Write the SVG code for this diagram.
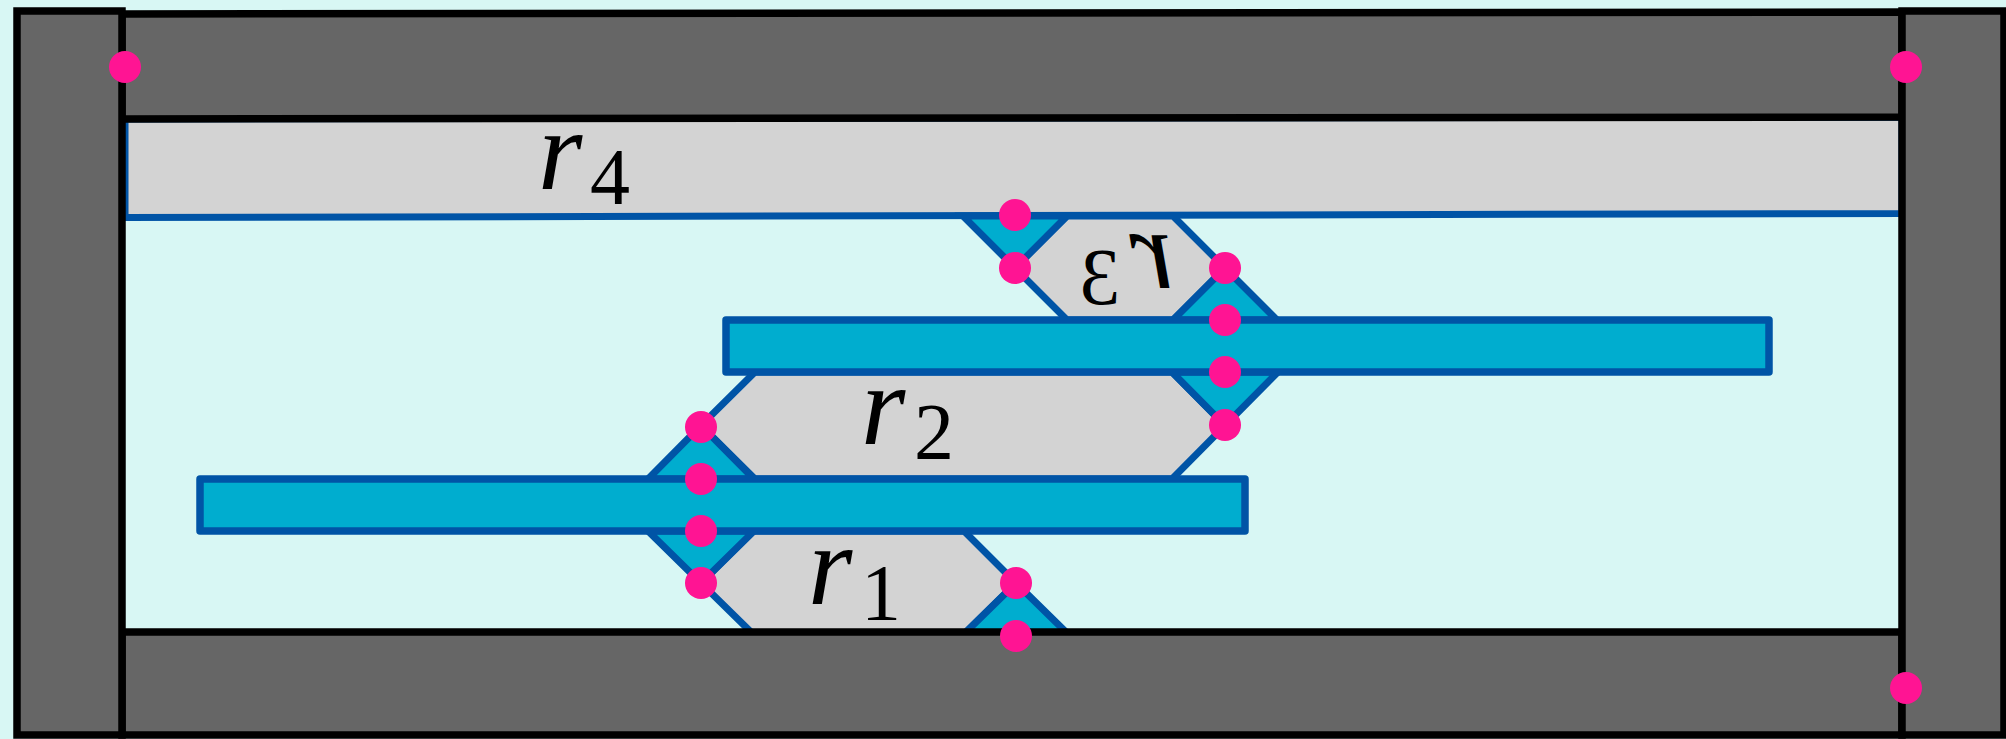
<svg xmlns="http://www.w3.org/2000/svg" width="2006" height="739" viewBox="0 0 2006 739">
<style>
.frame{fill:#666666;stroke:#000000;stroke-width:7.5;stroke-linejoin:miter}
.reg{fill:#D3D3D3;stroke:#0054A6;stroke-width:7;stroke-linejoin:miter}
.tri{fill:#00ADCF;stroke:#0054A6;stroke-width:7;stroke-linejoin:miter}
.bar{fill:#00ADCF;stroke:#0054A6;stroke-width:7.5;stroke-linejoin:round}
.dot{fill:#FF1493}
.lbl{font-family:"Liberation Serif","DejaVu Serif",serif;font-style:italic;font-size:114px;fill:#000}
.sub{font-family:"Liberation Serif","DejaVu Serif",serif;font-style:normal;font-size:80px;fill:#000}
</style>
<rect width="2006" height="739" fill="#D8F7F4"/>
<g id="region-r4"><polygon class="reg" points="125,119 1902,117 1902,213.5 125,217.5"/></g>
<g id="region-r3">
<polygon class="reg" points="1067,216 1173,216 1225,268 1173,320 1067,320 1015,268"/>
<polygon class="tri" points="963,216 1067,216 1015,268"/>
<polygon class="tri" points="1173,320 1277,320 1225,268"/>
</g>
<g id="region-r2">
<polygon class="reg" points="755,372 1172,372 1225,425.5 1172,479 755,479 701,425.5"/>
<polygon class="tri" points="1172,372 1278,372 1225,425.5"/>
<polygon class="tri" points="648,479 754,479 701,425.5"/>
</g>
<g id="region-r1">
<polygon class="reg" points="753,531 964,531 1016,583 964,634 753,634 701,583"/>
<polygon class="tri" points="648,531 754,531 701,583"/>
<polygon class="tri" points="964,634 1068,634 1016,583"/>
</g>
<g id="bar-upper"><rect class="bar" x="726" y="320" width="1043" height="52"/></g>
<g id="bar-lower"><rect class="bar" x="200" y="479" width="1045" height="52"/></g>
<g id="frame">
<polygon class="frame" points="122,14 1902,12 1902,117 122,119"/>
<rect class="frame" x="122" y="632" width="1780" height="103"/>
<rect class="frame" x="17" y="11" width="105" height="724"/>
<rect class="frame" x="1902" y="11" width="102" height="724"/>
</g>
<g id="connectors">
<circle class="dot" cx="125" cy="67" r="16"/>
<circle class="dot" cx="1906" cy="67" r="16"/>
<circle class="dot" cx="1906" cy="688" r="16"/>
<circle class="dot" cx="1015" cy="215" r="16"/>
<circle class="dot" cx="1015" cy="268" r="16"/>
<circle class="dot" cx="1225" cy="268" r="16"/>
<circle class="dot" cx="1225" cy="320" r="16"/>
<circle class="dot" cx="1225" cy="372" r="16"/>
<circle class="dot" cx="1225" cy="425" r="16"/>
<circle class="dot" cx="701" cy="427" r="16"/>
<circle class="dot" cx="701" cy="479" r="16"/>
<circle class="dot" cx="701" cy="531" r="16"/>
<circle class="dot" cx="701" cy="583" r="16"/>
<circle class="dot" cx="1016" cy="583" r="16"/>
<circle class="dot" cx="1016" cy="636" r="16"/>
</g>
<g id="labels">
<text class="lbl" x="538" y="189">r<tspan class="sub" x="590" y="204">4</tspan></text>
<text class="lbl" x="861" y="444">r<tspan class="sub" x="914" y="459">2</tspan></text>
<text class="lbl" x="808" y="604">r<tspan class="sub" x="861" y="620">1</tspan></text>
<g transform="translate(2244,0) scale(-1,1)"><text class="lbl" x="1070" y="288">r<tspan class="sub" x="1124" y="304">3</tspan></text></g>
</g>
</svg>
